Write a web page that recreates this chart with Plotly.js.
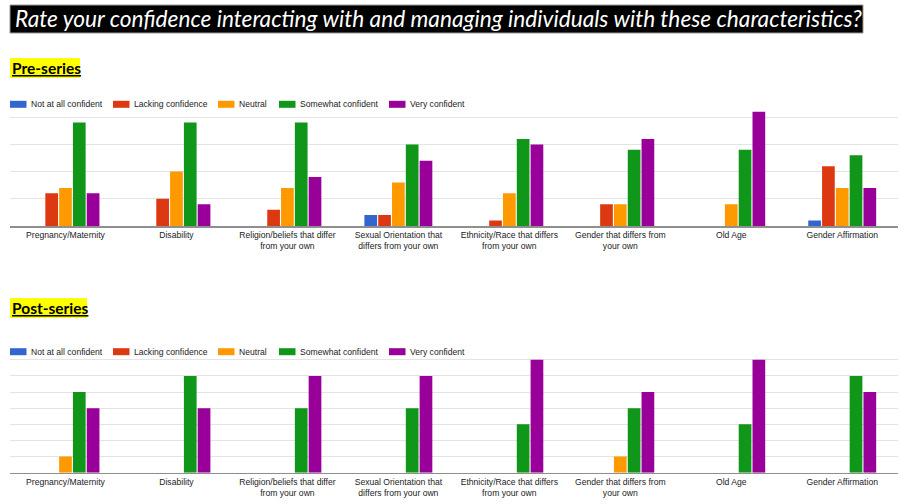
<!DOCTYPE html>
<html>
<head>
<meta charset="utf-8">
<script src="https://cdn.plot.ly/plotly-3.0.1.min.js"></script>
<style>html,body{margin:0;padding:0;background:#fff;}#chart{width:903px;height:504px;}</style>
</head>
<body>
<div id="chart"></div>
<script>
// ---- DATA ----
const categories = [
  'Pregnancy/Maternity',
  'Disability',
  'Religion/beliefs that differ<br>from your own',
  'Sexual Orientation that<br>differs from your own',
  'Ethnicity/Race that differs<br>from your own',
  'Gender that differs from<br>your own',
  'Old Age',
  'Gender Affirmation'
];
const seriesNames = ['Not at all confident', 'Lacking confidence', 'Neutral', 'Somewhat confident', 'Very confident'];

// Pre-series responses
const preNotAtAll   = [0, 0, 0, 2, 0, 0, 0, 1];
const preLacking    = [6, 5, 3, 2, 1, 4, 0, 11];
const preNeutral    = [7, 10, 7, 8, 6, 4, 4, 7];
const preSomewhat   = [19, 19, 19, 15, 16, 14, 14, 13];
const preVery       = [6, 4, 9, 12, 15, 16, 21, 7];

// Post-series responses
const postNotAtAll  = [0, 0, 0, 0, 0, 0, 0, 0];
const postLacking   = [0, 0, 0, 0, 0, 0, 0, 0];
const postNeutral   = [1, 0, 0, 0, 0, 1, 0, 0];
const postSomewhat  = [5, 6, 4, 4, 3, 4, 3, 6];
const postVery      = [4, 4, 6, 6, 7, 5, 7, 5];

const chartTitle = 'Rate your confidence interacting with and managing individuals with these characteristics?';
const preLabel = 'Pre-series';
const postLabel = 'Post-series';

// ---- STYLE ----
const colors = ['#3366cc', '#dc3912', '#ff9900', '#109618', '#990099'];
const W = 903, H = 504;
const px = v => v / W;
const py = v => 1 - v / H;
const legendX = [10, 113, 218, 279, 389];

const preSeries = [preNotAtAll, preLacking, preNeutral, preSomewhat, preVery];
const postSeries = [postNotAtAll, postLacking, postNeutral, postSomewhat, postVery];

const traces = [];
preSeries.forEach((vals, i) => {
  traces.push({type: 'bar', name: seriesNames[i], x: categories, y: vals, xaxis: 'x', yaxis: 'y',
    marker: {color: colors[i]}, showlegend: false});
});
postSeries.forEach((vals, i) => {
  traces.push({type: 'bar', name: seriesNames[i], x: categories, y: vals, xaxis: 'x2', yaxis: 'y2',
    marker: {color: colors[i]}, showlegend: false});
});

const tickfont = {family: 'Liberation Sans, Arial, sans-serif', size: 8.6, color: '#222'};
const xBase = {
  type: 'category', domain: [px(10), px(897.7)], showline: true, linecolor: '#8f8f8f', linewidth: 1.5,
  ticks: '', showgrid: false, zeroline: false, tickfont: tickfont, fixedrange: true
};
const yBase = {showticklabels: false, gridcolor: '#e4e4e4', gridwidth: 1, zeroline: false, ticks: '', fixedrange: true, tick0: 0};

const shapes = [
  {type: 'rect', xref: 'paper', yref: 'paper', x0: px(10), x1: px(863), y0: py(33), y1: py(5),
    fillcolor: '#000', line: {color: '#999', width: 1}},
  {type: 'rect', xref: 'paper', yref: 'paper', x0: px(10), x1: px(80), y0: py(78), y1: py(58),
    fillcolor: '#ffff00', line: {width: 0}},
  {type: 'rect', xref: 'paper', yref: 'paper', x0: px(10), x1: px(87), y0: py(318), y1: py(298),
    fillcolor: '#ffff00', line: {width: 0}}
];
const annotations = [
  {text: '<i>' + chartTitle + '</i>', xref: 'paper', yref: 'paper', x: px(13), y: py(19), xanchor: 'left', yanchor: 'middle',
    showarrow: false, font: {family: 'Lato, Open Sans, sans-serif', size: 22.7, color: '#fff'}},
  {text: '<b><u>' + preLabel + '</u></b>', xref: 'paper', yref: 'paper', x: px(10), y: py(68), xanchor: 'left', yanchor: 'middle',
    showarrow: false, font: {family: 'Lato, Open Sans, sans-serif', size: 15.5, color: '#000'}},
  {text: '<b><u>' + postLabel + '</u></b>', xref: 'paper', yref: 'paper', x: px(10), y: py(308), xanchor: 'left', yanchor: 'middle',
    showarrow: false, font: {family: 'Lato, Open Sans, sans-serif', size: 15.5, color: '#000'}}
];
[104.3, 351.7].forEach(cy => {
  seriesNames.forEach((nm, i) => {
    shapes.push({type: 'rect', xref: 'paper', yref: 'paper', x0: px(legendX[i]), x1: px(legendX[i] + 16.5),
      y0: py(cy + 3.5), y1: py(cy - 3.5), fillcolor: colors[i], line: {width: 0}});
    annotations.push({text: nm, xref: 'paper', yref: 'paper', x: px(legendX[i] + 19), y: py(cy), xanchor: 'left', yanchor: 'middle',
      showarrow: false, font: {family: 'Liberation Sans, Arial, sans-serif', size: 8.6, color: '#222'}});
  });
});

const layout = {
  width: W, height: H, margin: {l: 0, r: 0, t: 0, b: 0},
  paper_bgcolor: '#fff', plot_bgcolor: '#fff',
  barmode: 'group', bargap: 0.378, bargroupgap: 0.08,
  showlegend: false,
  xaxis: Object.assign({}, xBase, {anchor: 'y'}),
  yaxis: Object.assign({}, yBase, {domain: [py(226), py(106.3)], range: [0, 22], dtick: 5, anchor: 'x'}),
  xaxis2: Object.assign({}, xBase, {anchor: 'y2'}),
  yaxis2: Object.assign({}, yBase, {domain: [py(472.7), py(343.3)], range: [0, 8.02], dtick: 1, anchor: 'x2'}),
  shapes: shapes,
  annotations: annotations
};

Plotly.newPlot('chart', traces, layout, {displayModeBar: false, staticPlot: true});
</script>
</body>
</html>
